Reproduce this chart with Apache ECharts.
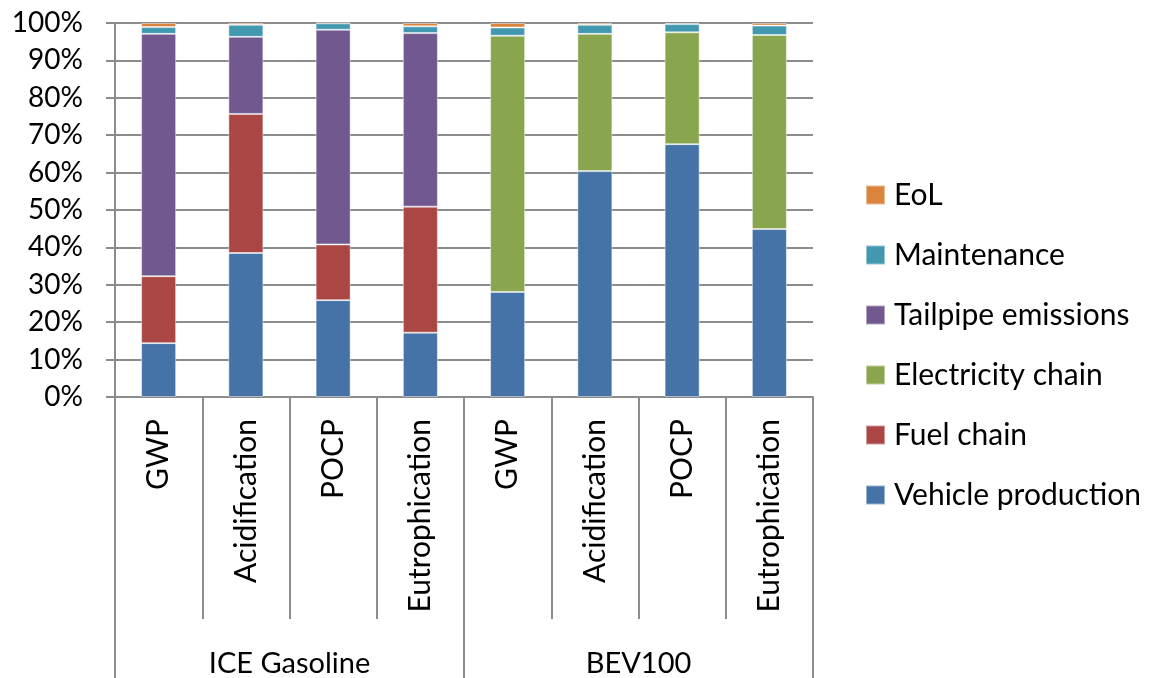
<!DOCTYPE html>
<html>
<head>
<meta charset="utf-8">
<script src="https://cdn.jsdelivr.net/npm/echarts@6/dist/echarts.min.js"></script>
<style>
html,body{margin:0;padding:0;background:#fff;}
#chart{width:1152px;height:678px;}
</style>
</head>
<body>
<div id="chart"></div>
<script>
const categories = ['GWP','Acidification','POCP','Eutrophication','GWP','Acidification','POCP','Eutrophication'];
const groups = ['ICE Gasoline','BEV100'];
const yTicks = [0,10,20,30,40,50,60,70,80,90,100];

const vehicleProduction = [14.4, 38.5, 25.9, 17.2, 28.1, 60.4, 67.6, 44.9];
const fuelChain         = [17.9, 37.2, 14.9, 33.7, null, null, null, null];
const electricityChain  = [null, null, null, null, 68.5, 36.7, 29.9, 51.9];
const tailpipeEmissions = [64.8, 20.6, 57.4, 46.4, null, null, null, null];
const maintenance       = [1.8, 3.2, 1.7, 1.8, 2.2, 2.4, 2.2, 2.5];
const eol               = [1.1, 0.5, 0.1, 0.9, 1.2, 0.5, 0.3, 0.7];

const seriesDefs = [
  ['Vehicle production', vehicleProduction, '#4572A7'],
  ['Fuel chain', fuelChain, '#AA4643'],
  ['Electricity chain', electricityChain, '#89A54E'],
  ['Tailpipe emissions', tailpipeEmissions, '#71588F'],
  ['Maintenance', maintenance, '#4198AF'],
  ['EoL', eol, '#DB843D']
];

const FONT = 'Lato';
const chart = echarts.init(document.getElementById('chart'));
chart.setOption({
  animation: false,
  textStyle: {fontFamily: FONT},
  grid: {left: 115, right: 339, top: 23, bottom: 280},
  legend: {
    orient: 'vertical',
    left: 865,
    top: 180,
    padding: 0,
    itemWidth: 19,
    itemHeight: 19,
    itemGap: 30,
    icon: 'rect',
    data: ['EoL','Maintenance','Tailpipe emissions','Electricity chain','Fuel chain','Vehicle production'],
    textStyle: {fontFamily: FONT, fontSize: 30, color: '#000', lineHeight: 30, padding: [0,0,0,4]}
  },
  xAxis: [
    {
      type: 'category',
      data: categories,
      position: 'bottom',
      axisLine: {show: true, lineStyle: {color: '#8c8c8c', width: 2}},
      axisTick: {show: true, length: 222, alignWithLabel: false, interval: 0, lineStyle: {color: '#8c8c8c', width: 2}},
      axisLabel: {interval: 0, rotate: 90, margin: 22, fontFamily: FONT, fontSize: 30, color: '#000'}
    },
    {
      type: 'category',
      data: groups,
      position: 'bottom',
      axisLine: {show: false},
      axisTick: {show: true, length: 282, interval: 0, lineStyle: {color: '#8c8c8c', width: 2}},
      axisLabel: {interval: 0, margin: 252, fontFamily: FONT, fontSize: 29, color: '#000'}
    }
  ],
  yAxis: {
    type: 'value',
    min: 0, max: 100, interval: 10,
    axisLine: {show: true, lineStyle: {color: '#8c8c8c', width: 2}},
    axisTick: {show: true, length: 9, lineStyle: {color: '#8c8c8c', width: 2}},
    splitLine: {show: true, lineStyle: {color: '#8c8c8c', width: 2}},
    axisLabel: {margin: 32, fontFamily: FONT, fontSize: 28, color: '#000',
      formatter: v => yTicks.includes(v) ? v + '%' : ''}
  },
  series: seriesDefs.map(([name, data, color]) => ({
    name, type: 'bar', stack: 'total', data, barWidth: 35, xAxisIndex: 0,
    itemStyle: {color, borderColor: 'rgba(255,255,255,0.45)', borderWidth: 1}
  }))
});
</script>
</body>
</html>
